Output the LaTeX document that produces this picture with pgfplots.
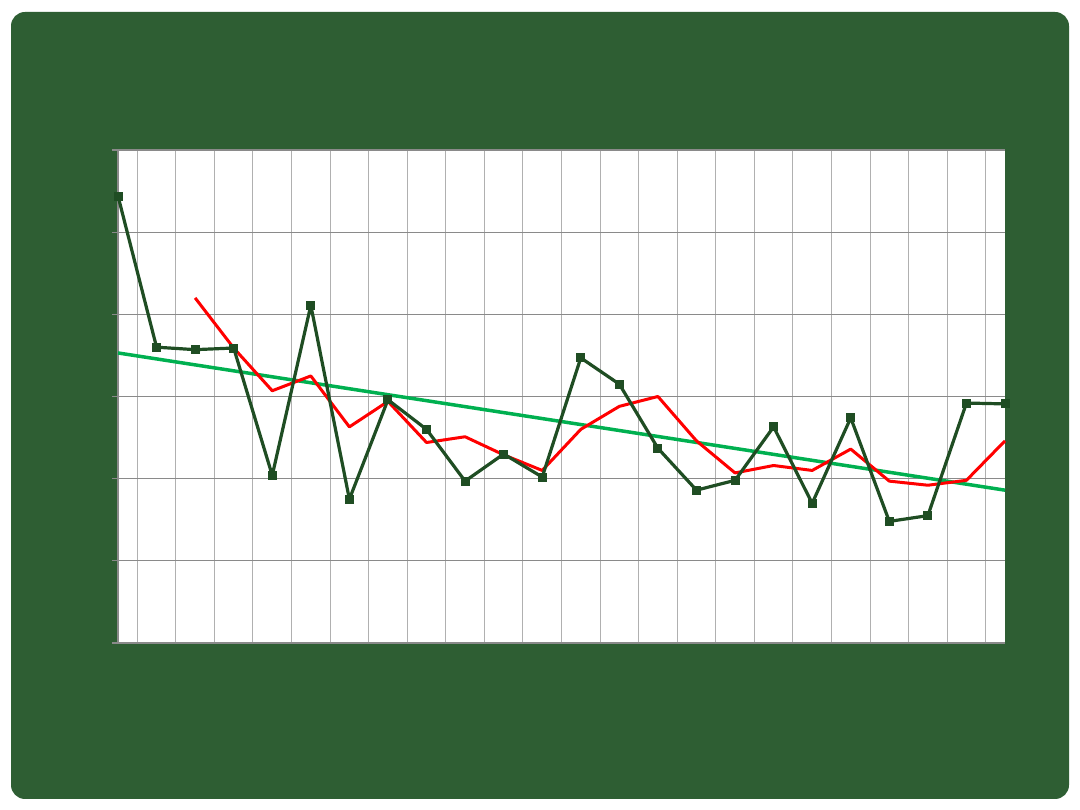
\documentclass[border=0pt]{standalone}
\usepackage{pgfplots}
\pgfplotsset{compat=1.18}
\definecolor{board}{HTML}{2E5E33}
\definecolor{darkline}{HTML}{1F4D23}
\definecolor{trend}{HTML}{00B050}
\definecolor{gridgray}{HTML}{8A8A8A}
\definecolor{vgray}{HTML}{B0B0B0}
\begin{document}
\begin{tikzpicture}
\path[use as bounding box, fill=white] (0,0) rectangle (1080pt,810pt);
\fill[board, rounded corners=14pt] (11pt,11pt) rectangle (1069pt,798pt);
\fill[white] (118pt,167pt) rectangle (1005pt,660pt);
\begin{axis}[
  at={(118pt,167pt)}, anchor=south west,
  scale only axis, width=887pt, height=493pt,
  xmin=0, xmax=23, ymin=0, ymax=6,
  clip=false,
  axis lines*=left,
  axis line style={gridgray, line width=1.3pt},
  xtick={0.5,1.5,...,22.5}, xticklabels={},
  ytick={0,1,2,3,4,5,6}, yticklabels={},
  xmajorgrids, ymajorgrids,
  x grid style={vgray, line width=1pt},
  y grid style={gridgray, line width=1.3pt},
  x tick style={draw=none},
  y tick style={gridgray, line width=1.3pt},
  tick align=outside, major tick length=6pt,
]
\addplot[trend, line width=3.5pt, line join=round] coordinates {(0,3.53) (23,1.86)};
\addplot[red, line width=3pt, line join=round] coordinates {
(2,4.20) (3,3.59) (4,3.07) (5,3.25) (6,2.63) (7,2.94) (8,2.44) (9,2.51)
(10,2.29) (11,2.10) (12,2.60) (13,2.88) (14,3.00) (15,2.46) (16,2.07)
(17,2.16) (18,2.10) (19,2.36) (20,1.97) (21,1.92) (22,1.98) (23,2.46)};
\addplot[darkline, line width=3.2pt, line join=round, mark=square*, mark size=4pt,
  mark options={solid, fill=darkline, draw=darkline, line width=0pt}] coordinates {
(0,5.44) (1,3.60) (2,3.57) (3,3.59) (4,2.04) (5,4.11) (6,1.75) (7,2.96)
(8,2.60) (9,1.97) (10,2.30) (11,2.02) (12,3.47) (13,3.15) (14,2.37)
(15,1.86) (16,1.98) (17,2.63) (18,1.70) (19,2.74) (20,1.48) (21,1.55)
(22,2.92) (23,2.91)};
\end{axis}
\end{tikzpicture}
\end{document}
